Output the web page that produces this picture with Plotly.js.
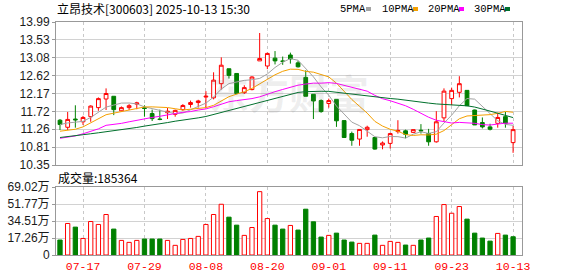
<!DOCTYPE html>
<html><head><meta charset="utf-8">
<script src="https://cdn.plot.ly/plotly-3.0.1.min.js"></script>
<style>html,body{margin:0;padding:0;background:#fff;overflow:hidden}#chart{width:578px;height:276px}</style>
</head><body><div id="chart"></div>
<script>
// ---------------- data ----------------
const stockTitle = '立昂技术[300603] 2025-10-13 15:30';
const dates = ['07-14','07-15','07-16','07-17','07-18','07-21','07-22','07-23','07-24','07-25','07-28','07-29','07-30','07-31',
 '08-01','08-04','08-05','08-06','08-07','08-08','08-11','08-12','08-13','08-14','08-15','08-18','08-19','08-20','08-21','08-22','08-25','08-26','08-27','08-28','08-29',
 '09-01','09-02','09-03','09-04','09-05','09-08','09-09','09-10','09-11','09-12','09-15','09-16','09-17','09-18','09-19','09-22','09-23','09-24','09-25','09-26','09-29','09-30',
 '10-09','10-10','10-13'];
const open  = [11.49,11.31,11.52,11.45,11.58,11.81,12.03,12.10,11.73,11.81,11.90,11.81,11.66,11.52,11.68,11.64,11.76,11.89,11.94,12.08,
 12.06,12.42,12.80,12.68,12.19,12.27,13.00,12.87,13.07,12.995,13.15,12.95,12.58,12.15,11.99,11.915,12.02,11.48,11.15,11.01,
 11.25,11.05,10.86,10.90,11.20,11.22,11.18,11.235,11.15,10.94,11.55,12.04,12.20,12.25,11.75,11.43,11.32,11.41,11.58,10.92];
const high  = [11.52,11.70,11.87,11.60,11.87,12.07,12.30,12.10,11.84,11.90,11.96,11.87,11.76,11.76,11.80,11.76,11.90,11.99,12.01,12.23,
 12.71,13.09,12.80,12.68,12.38,12.61,13.71,13.21,13.25,13.11,13.21,13.00,12.76,12.15,12.02,12.04,12.02,11.48,11.20,11.26,
 11.35,11.05,10.95,11.17,11.49,11.25,11.25,11.39,11.27,11.72,12.30,12.32,12.61,12.25,11.76,11.56,11.40,11.68,11.70,11.34];
const low   = [11.24,11.24,11.30,11.37,11.45,11.73,11.75,11.62,11.70,11.75,11.77,11.58,11.47,11.49,11.52,11.58,11.73,11.81,11.81,11.81,
 12.02,12.27,12.55,12.15,12.16,12.25,13.00,12.79,12.91,12.90,12.93,12.83,12.10,11.52,11.68,11.81,11.32,11.05,10.84,10.84,
 11.07,10.74,10.75,10.77,11.15,11.03,11.17,11.15,10.84,10.92,11.45,11.87,12.07,11.85,11.37,11.28,11.23,11.30,11.30,10.66];
const close = [11.38,11.51,11.50,11.56,11.85,12.04,12.17,11.76,11.81,11.86,11.93,11.79,11.53,11.51,11.72,11.74,11.865,11.94,11.98,12.10,
 12.51,12.89,12.63,12.17,12.32,12.59,13.06,13.19,13.00,12.99,13.05,12.85,12.10,11.98,11.71,11.99,11.475,11.05,10.98,11.255,
 11.31,10.755,10.91,11.15,11.23,11.13,11.25,11.22,10.94,11.45,12.23,12.25,12.42,11.86,11.37,11.32,11.26,11.56,11.41,11.25];
// volume in 万 (10k lots)
const volume = [15.2,32.0,28.3,16.8,34.0,31.0,41.1,26.3,14.8,12.8,14.8,16.2,16.2,16.2,14.8,9.8,15.8,16.8,18.9,31.0,
 41.1,51.5,38.4,30.3,19.9,27.9,64.3,37.0,30.3,26.3,30.0,25.3,46.5,33.7,18.2,19.9,22.2,15.2,13.1,11.8,
 11.8,20.2,9.8,13.8,12.8,10.1,9.8,15.2,17.2,39.1,51.2,42.4,49.2,36.4,22.2,17.2,14.1,21.9,20.2,18.5364];
// moving-average values before a full window exists inside the view
const ma5Head  = [11.38,11.42,11.44,11.46];
const ma10Head = [11.21,11.23,11.26,11.32,11.42,11.54,11.63,11.67,11.71];
const ma20Head = [11.03,11.06,11.09,11.145,11.21,11.27,11.36,11.38,11.41,11.45,11.49,11.52,11.56,11.59,11.63,11.66,11.69,11.71,11.75];
const ma30Head = [11.05,11.07,11.09,11.12,11.145,11.17,11.195,11.22,11.245,11.27,11.305,11.34,11.365,11.40,11.43,11.465,11.49,11.52,11.55,11.585,
 11.635,11.69,11.74,11.79,11.84,11.89,11.94,12.00,12.05];
const maNames = ['5PMA','10PMA','20PMA','30PMA'];
const priceMin = 10.35, priceMax = 13.99;
const priceTickLabels = ['10.35','10.81','11.26','11.72','12.17','12.62','13.08','13.53','13.99'];
const volMax = 69.02;
const volTickLabels = ['0','17.26万','34.51万','51.77万','69.02万'];
const dateTickLabels = ['07-17','07-29','08-08','08-20','09-01','09-11','09-23','10-13'];
const volLabel = '成交量';
const watermark = '东方财富';

// ---------------- derived ----------------
function movingAvg(n, head) {
  return close.map((c, i) => i < n - 1 ? head[i] :
    close.slice(i - n + 1, i + 1).reduce((a, b) => a + b, 0) / n);
}
const ma = [movingAvg(5, ma5Head), movingAvg(10, ma10Head), movingAvg(20, ma20Head), movingAvg(30, ma30Head)];
const maColors = ['#a3a3a3', '#f5a000', '#ff00ff', '#00702c'];
const UP = '#ff0000', DOWN = '#008000';
const volUp = close.map((c, i) => i === 0 ? c >= open[0] : c >= close[i - 1]);

// ---------------- geometry ----------------
const W = 578, H = 276, ML = 56, MR = 56, MT = 22, MB = 21;
const PW = W - ML - MR, PH = H - MT - MB;
const px = X => (X - ML) / PW;
const py = Y => (H - MB - Y) / PH;

const traces = [];
traces.push({
  type: 'candlestick', x: dates, open: open, high: high, low: low, close: close,
  xaxis: 'x', yaxis: 'y', whiskerwidth: 0, hoverinfo: 'none',
  increasing: {line: {color: UP, width: 1}, fillcolor: '#ffffff'},
  decreasing: {line: {color: DOWN, width: 1}, fillcolor: DOWN}
});
ma.forEach((arr, k) => traces.push({
  type: 'scatter', mode: 'lines', x: dates, y: arr, xaxis: 'x', yaxis: 'y',
  line: {color: maColors[k], width: 1}, hoverinfo: 'none'
}));
traces.push({
  type: 'bar', x: dates, y: volume, xaxis: 'x', yaxis: 'y2', width: 0.56, hoverinfo: 'none',
  marker: {color: volUp.map(u => u ? '#ffffff' : DOWN),
           line: {color: volUp.map(u => u ? UP : DOWN), width: 1}}
});

const axisFont = {family: 'Liberation Sans, Arial, Noto Sans CJK SC', size: 12, color: '#1a1a1a'};
const annotations = [
  {xref: 'paper', yref: 'paper', x: px(55), y: py(8.5), xanchor: 'left', yanchor: 'middle', showarrow: false,
   text: stockTitle, font: {family: 'Noto Sans CJK SC', size: 12, color: '#000'}},
  {xref: 'paper', yref: 'paper', x: px(56), y: py(177), xanchor: 'left', yanchor: 'middle', showarrow: false,
   text: volLabel + ':' + Math.round(volume[volume.length - 1] * 10000), font: {family: 'Noto Sans CJK SC', size: 12, color: '#000'}},
  {xref: 'paper', yref: 'paper', x: px(289), y: py(92), xanchor: 'center', yanchor: 'middle', showarrow: false,
   text: '<b>' + watermark + '</b>', font: {family: 'Noto Sans CJK SC', size: 40, color: 'rgba(120,120,120,0.12)'}}
];
const legendX = [338, 380, 426, 472];
const squareX = [366, 413, 459, 505];
const shapes = [];
maNames.forEach((n, k) => {
  annotations.push({xref: 'paper', yref: 'paper', x: px(legendX[k]), y: py(9), xanchor: 'left', yanchor: 'middle',
    showarrow: false, text: n, font: {family: 'Liberation Mono, DejaVu Sans Mono', size: 10.5, color: '#000'}});
  shapes.push({type: 'rect', xref: 'paper', yref: 'paper', x0: px(squareX[k]), x1: px(squareX[k] + 5),
    y0: py(11), y1: py(7), fillcolor: maColors[k], line: {width: 0}});
});

const priceTicks = priceTickLabels.map((t, i) => priceMin + i * (priceMax - priceMin) / (priceTickLabels.length - 1));
const volTicks = volTickLabels.map((t, i) => i * volMax / (volTickLabels.length - 1));

const layout = {
  width: W, height: H, margin: {l: ML, r: MR, t: MT, b: MB, pad: 0},
  paper_bgcolor: '#fff', plot_bgcolor: '#fff', showlegend: false, dragmode: false,
  xaxis: {type: 'category', range: [-0.52, 60.16], anchor: 'y2', tickmode: 'array',
    tickvals: dateTickLabels, ticktext: dateTickLabels, ticks: '',
    tickfont: {family: 'Liberation Mono, DejaVu Sans Mono', size: 11.5, color: '#ff0000'},
    showgrid: true, gridcolor: '#c8c8c8', griddash: '3px,3px', gridwidth: 1,
    showline: true, linecolor: '#999', linewidth: 1, mirror: 'all', rangeslider: {visible: false}, fixedrange: true},
  yaxis: {domain: [py(165), 1], range: [priceMin, priceMax], tickmode: 'array', tickvals: priceTicks, ticktext: priceTickLabels,
    ticks: 'outside', ticklen: 3, tickcolor: '#999', tickfont: axisFont,
    showgrid: true, gridcolor: '#d2d2d2', gridwidth: 1, zeroline: false,
    showline: true, linecolor: '#999', linewidth: 1, mirror: true, fixedrange: true},
  yaxis2: {domain: [0, py(187)], range: [0, volMax], tickmode: 'array', tickvals: volTicks, ticktext: volTickLabels,
    ticks: 'outside', ticklen: 3, tickcolor: '#999', tickfont: axisFont,
    showgrid: true, gridcolor: '#d2d2d2', gridwidth: 1, zeroline: false,
    showline: true, linecolor: '#999', linewidth: 1, mirror: true, fixedrange: true},
  annotations: annotations, shapes: shapes
};
Plotly.newPlot('chart', traces, layout, {staticPlot: true, displayModeBar: false});
</script></body></html>
